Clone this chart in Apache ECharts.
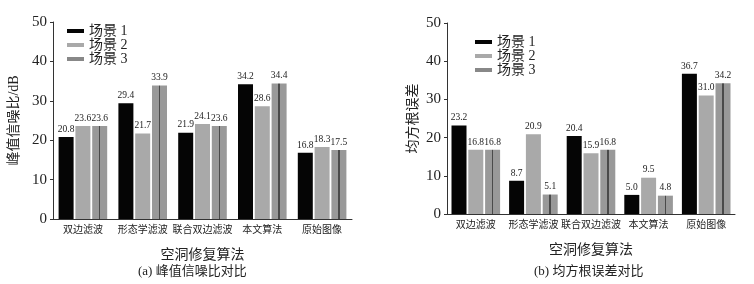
<!DOCTYPE html>
<html>
<head>
<meta charset="utf-8">
<script src="https://cdn.jsdelivr.net/npm/echarts@6/dist/echarts.min.js"></script>
<style>
  html, body { margin: 0; padding: 0; background: #fff; }
  #chart { width: 754px; height: 284px; }
</style>
</head>
<body>
<div id="chart"></div>
<script>
// 空洞修复算法对比 (a) 峰值信噪比  (b) 均方根误差
const methods = ["双边滤波", "形态学滤波", "联合双边滤波", "本文算法", "原始图像"];
const sceneNames = ["场景 1", "场景 2", "场景 3"];
const yTicks = [0, 10, 20, 30, 40, 50];

const psnrScene1 = [20.8, 29.4, 21.9, 34.2, 16.8];
const psnrScene2 = [23.6, 21.7, 24.1, 28.6, 18.3];
const psnrScene3 = [23.6, 33.9, 23.6, 34.4, 17.5];

const rmseScene1 = [23.2, 8.7, 20.4, 5.0, 36.7];
const rmseScene2 = [16.8, 20.9, 15.9, 9.5, 31.0];
const rmseScene3 = [16.8, 5.1, 16.8, 4.8, 34.2];

const FONT = "'Liberation Serif', 'Noto Sans CJK SC', serif";
const TXT = "#222";

// 场景3: 灰色柱中间一条深色竖线
const stripe = new echarts.graphic.LinearGradient(0, 0, 1, 0, [
    { offset: 0, color: "#999" },
    { offset: 0.45, color: "#999" },
    { offset: 0.45, color: "#4a4a4a" },
    { offset: 0.55, color: "#4a4a4a" },
    { offset: 0.55, color: "#999" },
    { offset: 1, color: "#999" },
]);
const sceneColors = ["#050505", "#a9a9a9", stripe];

function makeAxes(idx, yName, nameGap) {
    const xAxis = {
        type: "category", gridIndex: idx, data: methods,
        name: "空洞修复算法", nameLocation: "middle", nameGap: 29,
        nameTextStyle: { fontFamily: FONT, fontSize: 14, color: TXT },
        axisLine: { lineStyle: { color: "#333", width: 1 } },
        axisTick: { show: false },
        axisLabel: { interval: 0, fontFamily: FONT, fontSize: 10, color: TXT, margin: 6 },
    };
    const yAxis = {
        type: "value", gridIndex: idx, min: 0, max: yTicks[yTicks.length - 1], interval: 10,
        name: yName, nameLocation: "middle", nameGap: nameGap,
        nameTextStyle: { fontFamily: FONT, fontSize: 14, color: TXT },
        axisLine: { show: true, lineStyle: { color: "#333", width: 1 } },
        axisTick: { show: true, length: 3, lineStyle: { color: "#333" } },
        axisLabel: { fontFamily: FONT, fontSize: 15, color: TXT, margin: 6 },
        splitLine: { show: false },
    };
    return [xAxis, yAxis];
}

function makeSeries(idx, lists) {
    return lists.map((vals, i) => ({
        name: sceneNames[i], type: "bar",
        xAxisIndex: idx, yAxisIndex: idx,
        data: vals, barWidth: 15, barGap: "12%",
        itemStyle: { color: sceneColors[i] },
        label: {
            show: true, position: "top", distance: 3,
            fontFamily: FONT, fontSize: 9.5, color: TXT,
            formatter: p => p.value.toFixed(1),
        },
    }));
}

function makeLegend(left, top) {
    return {
        left: left, top: top, orient: "vertical", itemGap: 0,
        icon: "rect", itemWidth: 17, itemHeight: 4,
        textStyle: { fontFamily: FONT, fontSize: 14, color: TXT },
        data: [
            { name: sceneNames[0], itemStyle: { color: "#050505" } },
            { name: sceneNames[1], itemStyle: { color: "#a9a9a9" } },
            { name: sceneNames[2], itemStyle: { color: "#888" } },
        ],
    };
}

const [xa, ya] = makeAxes(0, "峰值信噪比/dB", 32);
const [xb, yb] = makeAxes(1, "均方根误差", 27);

const chart = echarts.init(document.getElementById("chart"));
chart.setOption({
    animation: false,
    grid: [
        { left: 53, top: 22, width: 299, height: 197 },
        { left: 447, top: 23, width: 288, height: 191 },
    ],
    xAxis: [xa, xb],
    yAxis: [ya, yb],
    legend: [makeLegend(62, 19), makeLegend(470, 30)],
    series: [
        ...makeSeries(0, [psnrScene1, psnrScene2, psnrScene3]),
        ...makeSeries(1, [rmseScene1, rmseScene2, rmseScene3]),
    ],
    graphic: [
        { type: "text", left: 138, top: 265,
          style: { text: "(a) 峰值信噪比对比", font: "13px " + FONT, fill: TXT } },
        { type: "text", left: 534, top: 265,
          style: { text: "(b) 均方根误差对比", font: "13px " + FONT, fill: TXT } },
    ],
});
</script>
</body>
</html>
